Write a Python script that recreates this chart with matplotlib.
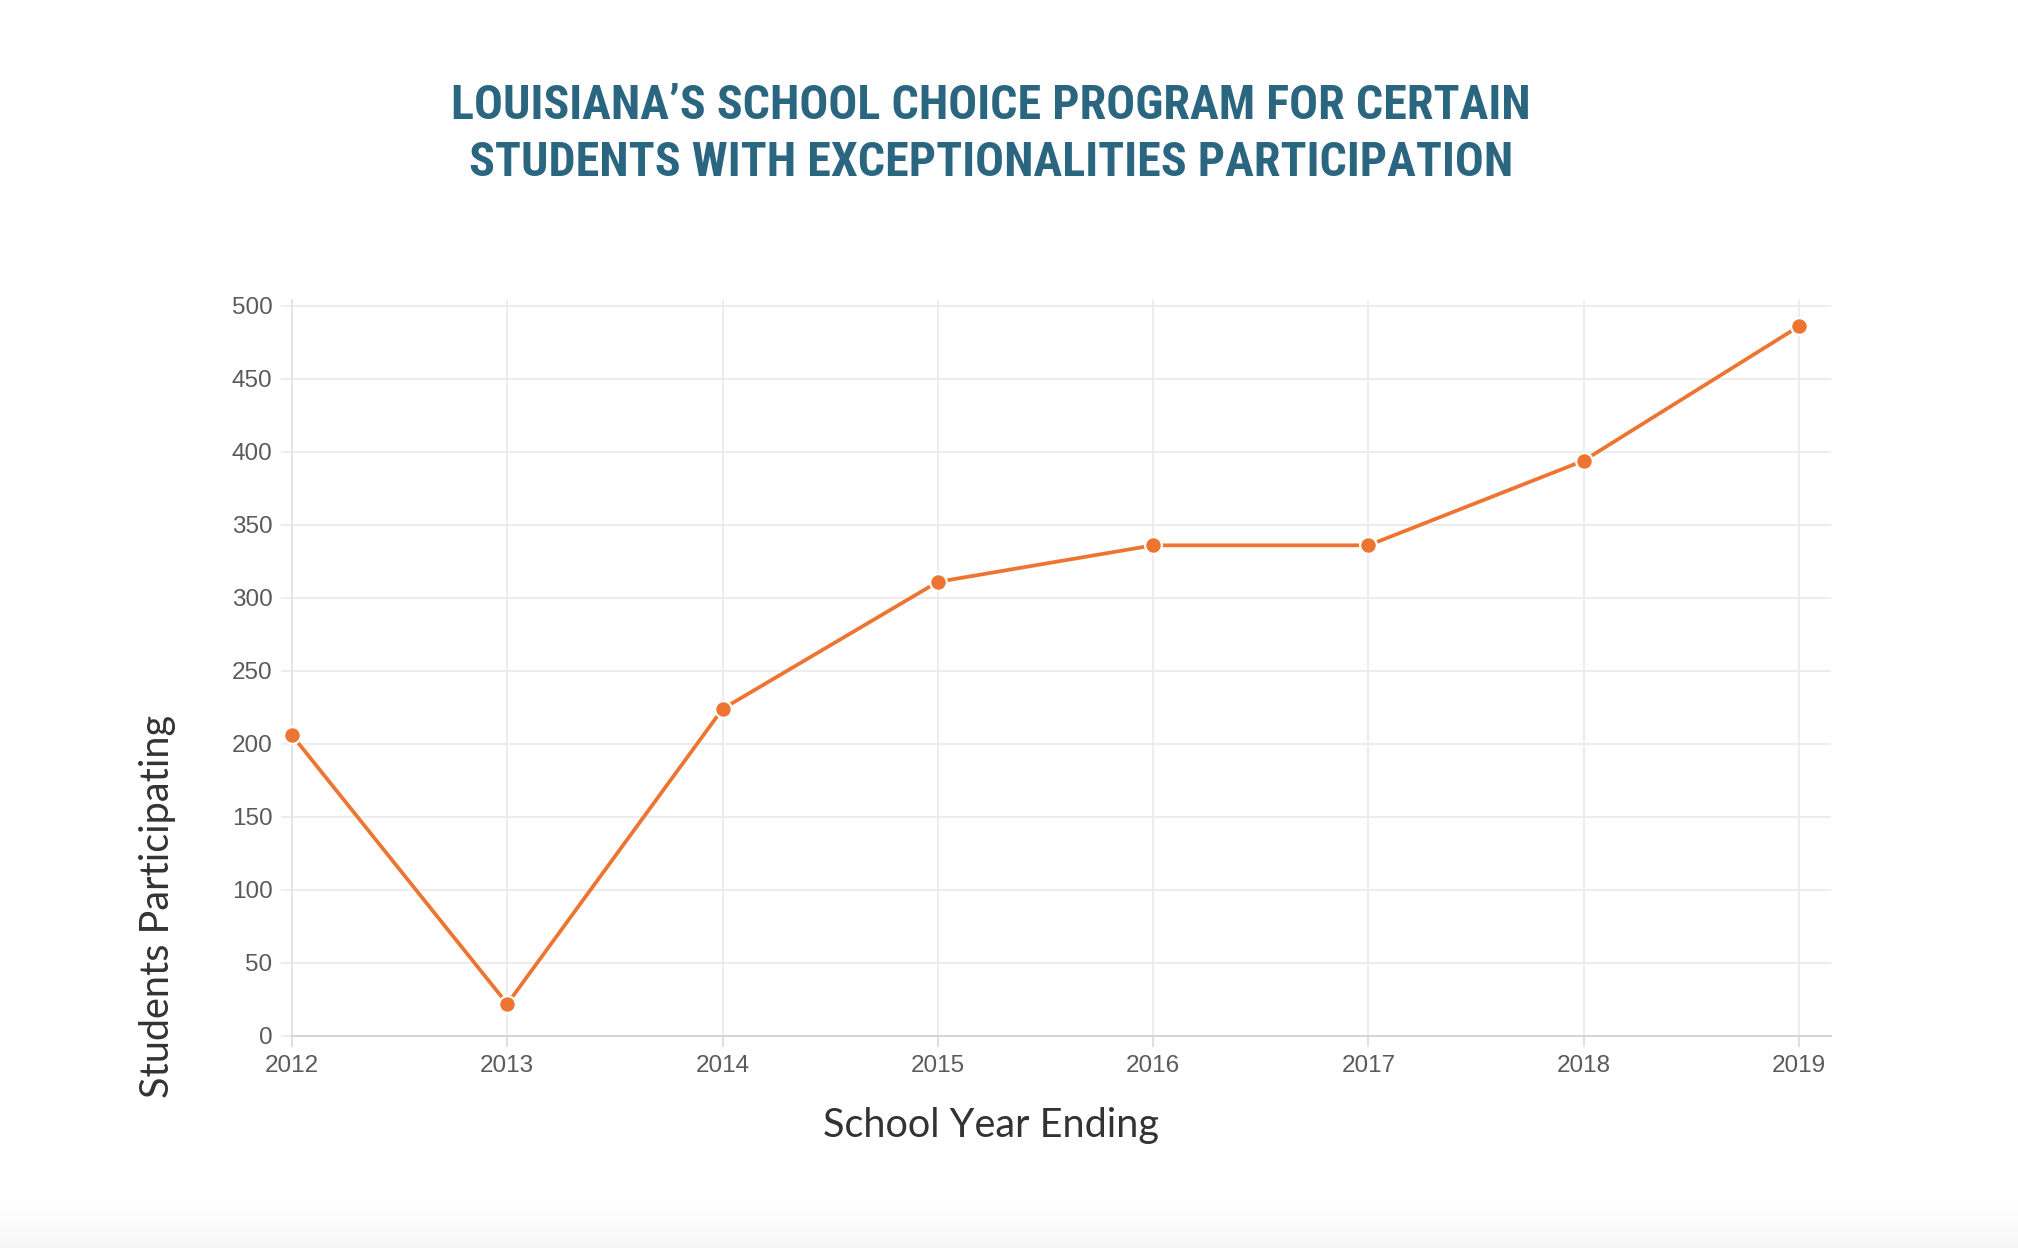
import numpy as np
import matplotlib.pyplot as plt
from matplotlib import font_manager

years = [2012, 2013, 2014, 2015, 2016, 2017, 2018, 2019]
students = [206, 22, 224, 311, 336, 336, 394, 486]
y_ticks = [0, 50, 100, 150, 200, 250, 300, 350, 400, 450, 500]

title_color = '#2b6680'
line_color = '#ee7431'
grid_color = '#ececec'
tick_color = '#5a5a5a'

installed = set(f.name for f in font_manager.fontManager.ttflist)
title_font = 'DejaVu Sans'
for cand in ['Roboto Condensed', 'Liberation Sans Narrow', 'DejaVu Sans Condensed', 'Roboto']:
    if cand in installed:
        title_font = cand
        break

fig = plt.figure(figsize=(20.18, 12.48), dpi=100)
fig.patch.set_facecolor('white')

# faint grey fade at the very bottom of the page
bg = fig.add_axes([0, 0, 1, 0.035], zorder=-5)
grad = np.linspace(0.968, 1.0, 50).reshape(-1, 1)
bg.imshow(np.dstack([grad, grad, grad]), aspect='auto', extent=[0, 1, 0, 1], origin='lower')
bg.axis('off')

W, H = 2018, 1248
left, right = 292, 1831
top, bottom = 300, 1036
ax = fig.add_axes([left / W, 1 - bottom / H, (right - left) / W, (bottom - top) / H])

ax.plot(years, students, color=line_color, lw=2.7, zorder=3, clip_on=False,
        marker='o', markersize=12, markerfacecolor=line_color,
        markeredgecolor='white', markeredgewidth=1.6)

ax.set_xlim(2012, 2019 + 32 / 215.3)
ax.set_ylim(0, 504)
ax.set_xticks(years)
ax.set_yticks(y_ticks)
ax.set_xticklabels([str(y) for y in years], family='Liberation Sans', fontsize=17.5, color=tick_color)
ax.set_yticklabels([str(v) for v in y_ticks], family='Liberation Sans', fontsize=17.5, color=tick_color)

ax.grid(True, color=grid_color, lw=1.3, zorder=0)
ax.set_axisbelow(True)
for s in ['top', 'right']:
    ax.spines[s].set_visible(False)
ax.spines['left'].set_color('#e2e2e2')
ax.spines['left'].set_linewidth(1.3)
ax.spines['bottom'].set_color('#d6d6d6')
ax.spines['bottom'].set_linewidth(1.5)
ax.tick_params(axis='y', length=8, width=1.3, color=grid_color, pad=6)
ax.tick_params(axis='x', length=8, width=1.3, color='#dddddd', pad=6)

fig.text(991 / W, 1 - 1126 / H, 'School Year Ending', family='Lato', fontsize=28.5,
         color='#333333', ha='center', va='center')
fig.text(158 / W, 1 - 906 / H, 'Students Participating', family='Lato', fontsize=28.5,
         color='#333333', ha='center', va='center', rotation=90)

fig.text(991 / W, 1 - 106 / H, 'LOUISIANA\u2019S SCHOOL CHOICE PROGRAM FOR CERTAIN',
         family=[title_font, 'DejaVu Sans'], fontweight='bold', fontsize=34.6,
         color=title_color, ha='center', va='center')
fig.text(991 / W, 1 - 163 / H, 'STUDENTS WITH EXCEPTIONALITIES PARTICIPATION',
         family=[title_font, 'DejaVu Sans'], fontweight='bold', fontsize=34.6,
         color=title_color, ha='center', va='center')

fig.savefig('out.png', dpi=100)
